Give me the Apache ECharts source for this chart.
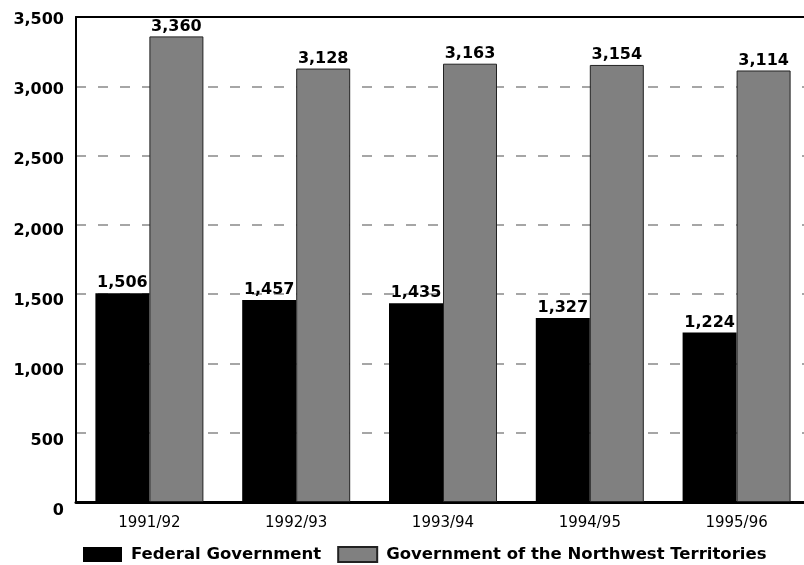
<!DOCTYPE html>
<html><head><meta charset="utf-8">
<script src="https://cdn.jsdelivr.net/npm/echarts@6/dist/echarts.min.js"></script>
<style>html,body{margin:0;padding:0;background:#fff;overflow:hidden}#c{width:810px;height:565px}</style>
</head><body><div id="c"></div>
<script>
const categories = ['1991/92','1992/93','1993/94','1994/95','1995/96'];
const federal = [1506,1457,1435,1327,1224];
const gnwt = [3360,3128,3163,3154,3114];
const yTicks = [0,500,1000,1500,2000,2500,3000,3500];
const FONT = '"DejaVu Sans", Verdana, sans-serif';
const fmt = v => v.toLocaleString('en-US');
const chart = echarts.init(document.getElementById('c'), null, {renderer:'canvas'});
const lbl = {show:true, position:'top', distance:2, formatter:p=>fmt(p.value), fontFamily:FONT, fontWeight:'bold', fontSize:16, color:'#000'};
const yMin = yTicks[0], yMax = yTicks[yTicks.length-1];
chart.setOption({
  animation:false,
  grid:[{left:76, right:0, top:17, height:485, containLabel:false},
        {left:76, right:0, top:20, height:491, containLabel:false}],
  legend:{top:546, left:83, padding:0, itemWidth:39, itemHeight:15, itemGap:16,
    textStyle:{fontFamily:FONT, fontWeight:'bold', fontSize:16.5, color:'#000', padding:[0,0,0,4]},
    data:[{name:'Federal Government', icon:'rect'},{name:'Government of the Northwest Territories', icon:'rect'}]},
  xAxis:[{type:'category', data:categories, axisTick:{show:false},
    axisLine:{lineStyle:{color:'#000', width:3}},
    axisLabel:{fontFamily:FONT, fontSize:15, color:'#000', margin:14}},
    {type:'category', data:categories, position:'top', axisTick:{show:false}, axisLabel:{show:false},
     axisLine:{show:true, lineStyle:{color:'#000', width:2}}},
    {type:'category', gridIndex:1, data:categories, show:false}],
  yAxis:[{type:'value', min:yMin, max:yMax, interval:500,
    axisLine:{show:true, lineStyle:{color:'#000', width:2}}, axisTick:{show:false},
    axisLabel:{show:false},
    splitLine:{show:true, lineStyle:{color:'#a6a6a6', width:2, type:[10,12]}}},
    {type:'value', gridIndex:1, min:yMin, max:yMax, interval:500,
    axisLine:{show:false}, axisTick:{show:false}, splitLine:{show:false},
    axisLabel:{fontFamily:FONT, fontWeight:'bold', fontSize:16, color:'#000', margin:12, formatter:v=>fmt(v)}}],
  series:[
    {name:'Federal Government', type:'bar', data:federal, barWidth:54, barGap:'0%',
     itemStyle:{color:'#000'}, label:lbl},
    {name:'Government of the Northwest Territories', type:'bar', data:gnwt, barWidth:54,
     itemStyle:{color:'#808080', borderColor:'#222', borderWidth:1}, label:lbl}
  ]
});
</script></body></html>
